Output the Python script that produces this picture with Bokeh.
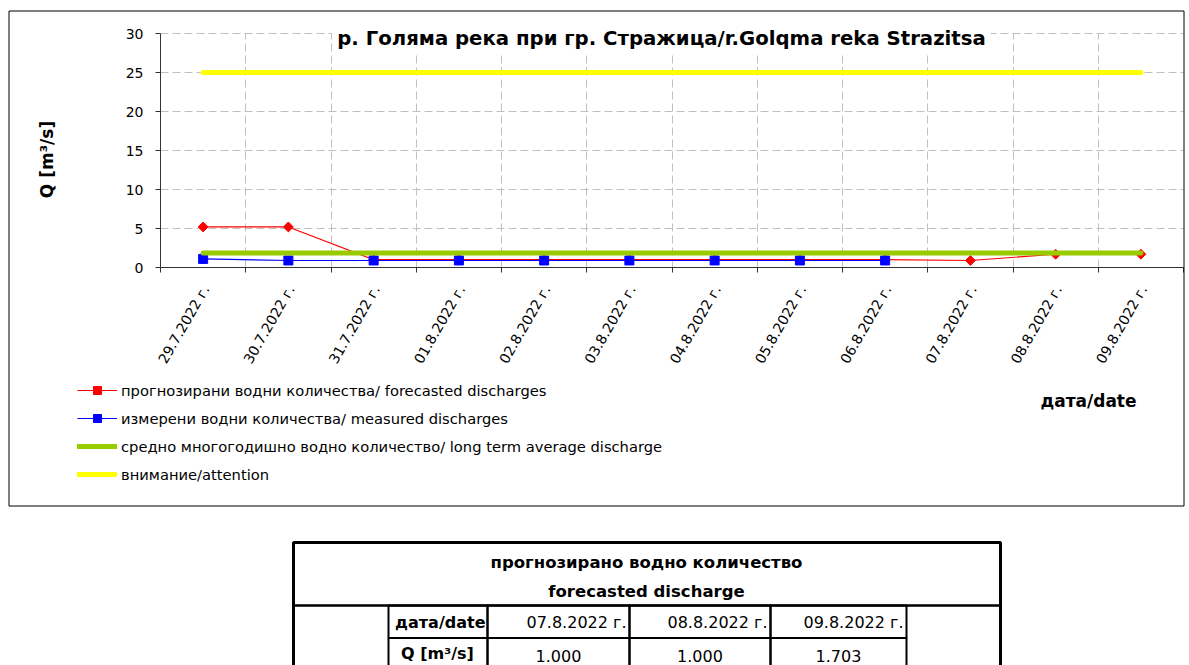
import math
from bokeh.plotting import figure
from bokeh.models import (Range1d, LinearAxis, FixedTicker, Grid, Label,
                          BoxAnnotation, Legend, LegendItem)
from bokeh.embed import file_html
from bokeh.resources import INLINE

# ---------------- data ----------------
dates = ["29.7.2022 г.", "30.7.2022 г.", "31.7.2022 г.", "01.8.2022 г.", "02.8.2022 г.",
         "03.8.2022 г.", "04.8.2022 г.", "05.8.2022 г.", "06.8.2022 г.", "07.8.2022 г.",
         "08.8.2022 г.", "09.8.2022 г."]
forecast = [5.2, 5.2, 1.0, 1.0, 1.0, 1.0, 1.0, 1.0, 1.0, 0.9, 1.7, 1.7]
measured = [1.1, 0.9, 0.9, 0.9, 0.9, 0.9, 0.9, 0.9, 0.9]
long_term_avg = [1.85] * 12
attention = [25.0] * 12
y_ticks = [0, 5, 10, 15, 20, 25, 30]

legend_labels = ["прогнозирани водни количества/ forecasted discharges",
                 "измерени водни количества/ measured discharges",
                 "средно многогодишно водно количество/ long term average discharge",
                 "внимание/attention"]

title_text = "р. Голяма река при гр. Стражица/r.Golqma reka Strazitsa"
y_label = "Q [m³/s]"
x_label = "дата/date"

table_title = ["прогнозирано водно количество", "forecasted discharge"]
table_row_labels = ["дата/date", "Q [m³/s]"]
table_dates = ["07.8.2022 г.", "08.8.2022 г.", "09.8.2022 г."]
table_q = [1.000, 1.000, 1.703]

# ---------------- layout (page pixels) ----------------
FONT = "DejaVu Sans"
W, H = 1189, 665
n = len(dates)
Y_MAX = 30
PL, PR, PT, PB = 160, 1183, 33, 267          # plot area on the page
UX = (PR - PL) / n                             # px per category
UY = (PB - PT) / Y_MAX                         # px per y unit

x0 = -PL / UX
y1 = Y_MAX + PT / UY
p = figure(width=W, height=H,
           x_range=Range1d(x0, x0 + W / UX), y_range=Range1d(y1 - H / UY, y1),
           output_backend="svg", toolbar_location=None, min_border=0)
p.outline_line_color = None
p.background_fill_color = "white"
p.border_fill_color = "white"

def px(xp):
    return x0 + xp / UX
def py(yp):
    return y1 - yp / UY

pos = {d: i + 0.5 for i, d in enumerate(dates)}     # category centres
xs_all = [pos[d] for d in dates]
xs_meas = [pos[d] for d in dates[:len(measured)]]

# y axis (drawn at the left edge of the plot area)
ya = p.yaxis[0]
ya.fixed_location = 0
ya.bounds = (0, Y_MAX)
ya.ticker = FixedTicker(ticks=y_ticks)
ya.axis_line_color = "#333333"
ya.major_tick_line_color = "#333333"
ya.major_tick_out = 5
ya.major_tick_in = 0
ya.minor_tick_line_color = None
ya.major_label_text_font = FONT
ya.major_label_text_font_size = "14px"
ya.major_label_text_color = "black"
ya.major_label_standoff = 12

# x axis: line + ticks at category boundaries
xa = p.xaxis[0]
xa.fixed_location = 0
xa.bounds = (0, n)
xa.ticker = FixedTicker(ticks=[], minor_ticks=list(range(n + 1)))
xa.axis_line_color = "#333333"
xa.major_tick_line_color = None
xa.minor_tick_line_color = "#333333"
xa.minor_tick_out = 5
xa.minor_tick_in = 0
xa.major_label_text_font_size = "0px"

# x axis labels (category names, rotated)
DX = 2.5 / UX
lab_ticks = [pos[d] + DX for d in dates]
xl = LinearAxis(fixed_location=-7 / UY, ticker=FixedTicker(ticks=lab_ticks),
                major_label_overrides={t: d for t, d in zip(lab_ticks, dates)},
                axis_line_color=None, major_tick_line_color=None,
                minor_tick_line_color=None, major_tick_out=0, major_tick_in=0,
                major_label_orientation=math.pi / 3, major_label_standoff=12,
                major_label_text_font=FONT, major_label_text_font_size="14px",
                major_label_text_color="black")
p.add_layout(xl, "below")

# grids (only inside the plot area)
p.xgrid.visible = False
p.ygrid.visible = False
p.add_layout(Grid(dimension=1, ticker=FixedTicker(ticks=y_ticks[1:]), cross_bounds=(0, n),
                  grid_line_color="#c0c0c0", grid_line_dash="8 4"))
p.add_layout(Grid(dimension=0, ticker=FixedTicker(ticks=list(range(1, n))),
                  cross_bounds=(0, Y_MAX),
                  grid_line_color="#c0c0c0", grid_line_dash="8 4"))

# series
r_red_line = p.line(xs_all, forecast, line_color="#ff0000", line_width=1.2)
r_red_pts = p.scatter(xs_all, forecast, marker="square", angle=math.pi / 4, size=7,
                      fill_color="#ff0000", line_color="#ff0000")
r_blue_line = p.line(xs_meas, measured, line_color="#0000ff", line_width=1.2)
r_blue_pts = p.scatter(xs_meas, measured, marker="square", size=9,
                       fill_color="#0000ff", line_color="#0000ff")
r_green = p.line(xs_all, long_term_avg, line_color="#99cc00", line_width=5, line_cap="round")
r_yellow = p.line(xs_all, attention, line_color="#ffff00", line_width=5, line_cap="round")

# legend
legend = Legend(items=[LegendItem(label=legend_labels[0], renderers=[r_red_line, r_red_pts]),
                       LegendItem(label=legend_labels[1], renderers=[r_blue_line, r_blue_pts]),
                       LegendItem(label=legend_labels[2], renderers=[r_green]),
                       LegendItem(label=legend_labels[3], renderers=[r_yellow])],
                location=(77, H - 484), orientation="vertical",
                glyph_width=40, glyph_height=20, label_height=20, spacing=8,
                padding=0, margin=0, label_standoff=4,
                border_line_color=None, background_fill_alpha=0,
                label_text_font=FONT, label_text_font_size="14.7px", label_text_color="black")
p.add_layout(legend, "center")

def text(t, xp, yp, size, bold=False, align="center", angle=0.0, bg=None):
    lab = Label(x=px(xp), y=py(yp), text=t, text_font=FONT,
                text_font_size=f"{size}px", text_font_style="bold" if bold else "normal",
                text_align=align, text_baseline="middle", angle=angle, text_color="black")
    if bg is not None:
        lab.background_fill_color = bg
        lab.padding = 5
    p.add_layout(lab)

def box(x0_, y0_, x1_, y1_, lw):
    p.add_layout(BoxAnnotation(left=px(x0_), right=px(x1_), top=py(y0_), bottom=py(y1_),
                               fill_color=None, fill_alpha=0,
                               line_color="black", line_width=lw, line_alpha=1))

# chart texts
text(title_text, 661, 38, 19.7, bold=True, bg="white")
text(y_label, 46, 159, 17, bold=True, angle=math.pi / 2)
text(x_label, 1088, 400, 17, bold=True)

# outer chart box
box(8.5, 10.5, 1183.5, 505.5, 1)

# table
box(293, 542, 1000, 700, 3)
box(293, 542, 1000, 605, 2.5)
cols = [388, 487, 629, 770, 906]
for i in range(len(cols) - 1):
    box(cols[i], 605, cols[i + 1], 637.5, 2)
    box(cols[i], 637.5, cols[i + 1], 700, 2)

text(table_title[0], 646, 562, 16.5, bold=True)
text(table_title[1], 646, 591, 16.5, bold=True)
text(table_row_labels[0], 485, 622, 16, bold=True, align="right")
text(table_row_labels[1], 437, 653, 16, bold=True)
for i, (d, q) in enumerate(zip(table_dates, table_q)):
    text(d, cols[i + 2] - 3, 622, 16, align="right")
    text(f"{q:.3f}", (cols[i + 1] + cols[i + 2]) / 2, 655, 16)

open("out.html", "w").write(file_html(p, INLINE))
